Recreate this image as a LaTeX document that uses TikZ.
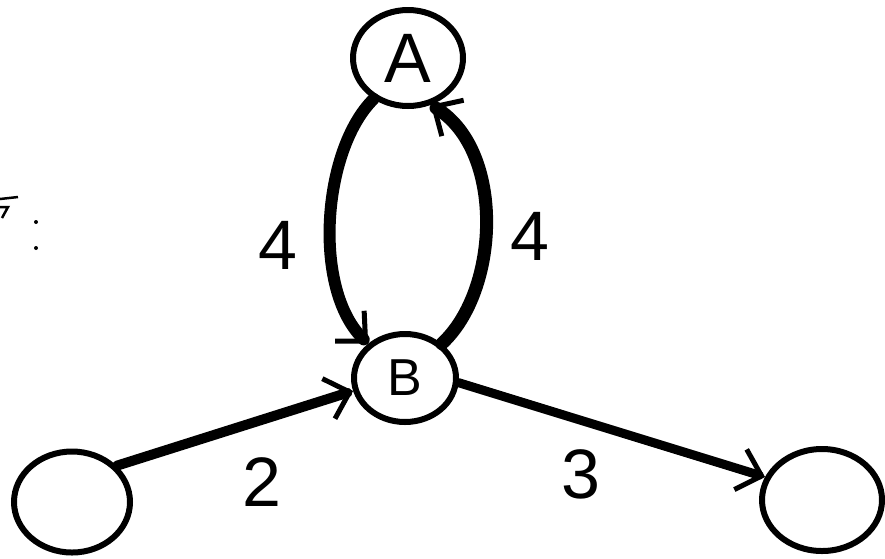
\documentclass[tikz,border=0pt]{standalone}
\usepackage{fontspec}
\setmainfont{Liberation Sans}
\usetikzlibrary{arrows.meta,shapes.geometric}
\tikzset{
  vertex/.style={draw=black, line width=6pt, ellipse, inner sep=0pt},
  edgeline/.style={draw=black, line cap=round,
    -{Straight Barb[length=22pt,width=42pt,line width=5pt]}},
  wlabel/.style={inner sep=0pt, font=\fontsize{70}{70}\selectfont}
}
\begin{document}
\begin{tikzpicture}[x=1pt,y=-1pt]
\useasboundingbox (0,0) rectangle (885,558);
% vertices
\node[vertex, minimum width=110pt, minimum height=96pt, font=\fontsize{70}{70}\selectfont] (A) at (408,58) {A};
\node[vertex, minimum width=102pt, minimum height=88pt, font=\fontsize{52}{52}\selectfont] (B) at (405,378) {B};
\node[vertex, minimum width=116pt, minimum height=101pt] (L) at (72,502) {};
\node[vertex, minimum width=120pt, minimum height=102pt] (R) at (822,500) {};
% edges
\draw[edgeline, line width=12pt] (A.230) .. controls (322,150) and (312,290) .. (B.137);
\draw[edgeline, line width=13pt] (B.43) .. controls (500,290) and (505,150) .. (A.296);
\draw[edgeline, line width=10pt] (L.39) -- (B.194);
\draw[edgeline, line width=9pt] (B.355) -- (R.158);
% weights
\node[wlabel] (w1) at (278,245) {4};
\node[wlabel] (w2) at (530,236) {4};
\node[wlabel] (w3) at (262,482) {2};
\node[wlabel] (w4) at (581,474) {3};
% cut-off fragment at left edge
\draw[line width=2.5pt] (0,199) -- (18,197);
\draw[line width=2.5pt] (0,207) -- (8,207) -- (2,218);
\fill (36,222) circle (2pt);
\fill (36,248) circle (2pt);
\end{tikzpicture}
\end{document}
